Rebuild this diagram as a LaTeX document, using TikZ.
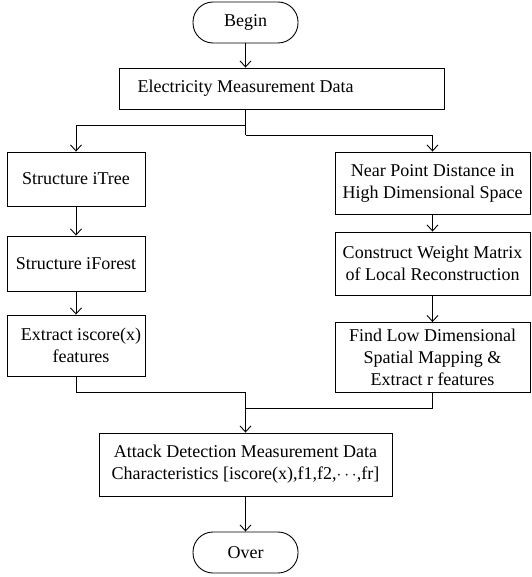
\documentclass[tikz,border=0pt]{standalone}
\usepackage{fontspec}
\setmainfont{Liberation Serif}
\usetikzlibrary{arrows.meta}
\tikzset{
  procbox/.style={draw,line width=0.9pt,align=center,inner sep=2pt,font=\fontsize{18}{22}\selectfont},
  termbox/.style={procbox,rounded corners=20pt,minimum width=105pt,minimum height=41pt},
  flow/.style={line width=0.9pt,-{Straight Barb[length=6pt,width=11pt,line width=0.9pt]}},
  link/.style={line width=0.9pt}
}
\begin{document}
\begin{tikzpicture}[x=1pt,y=1pt,yscale=-1,xscale=1]
\useasboundingbox (0,0) rectangle (531,577);

%Shape: Rounded Rect [id:begin]
\node [termbox] (begin) at (245.5,22.5) {Begin};
%Shape: Rectangle [id:elec]
\node [procbox,minimum width=325pt,minimum height=41pt] (elec) at (281.5,88.5) {Electricity Measurement Data\hspace*{72pt}};
%Shape: Rectangle [id:itree]
\node [procbox,minimum width=138pt,minimum height=54pt] (itree) at (76,179) {Structure iTree};
%Shape: Rectangle [id:iforest]
\node [procbox,minimum width=138pt,minimum height=55pt] (iforest) at (76,263.5) {Structure iForest};
%Shape: Rectangle [id:iscore]
\node [procbox,minimum width=138pt,minimum height=61pt] (iscore) at (76,345.5) {\hspace*{10pt}Extract iscore(x)\\\hspace*{10pt}features};
%Shape: Rectangle [id:near]
\node [procbox,minimum width=195pt,minimum height=62pt] (near) at (432.5,183) {Near Point Distance in\\High Dimensional Space};
%Shape: Rectangle [id:weight]
\node [procbox,minimum width=195pt,minimum height=63pt] (weight) at (432.5,263.5) {Construct Weight Matrix\\of Local Reconstruction};
%Shape: Rectangle [id:findlow]
\node [procbox,minimum width=195pt,minimum height=70pt] (findlow) at (432.5,357.5) {Find Low Dimensional\\Spatial Mapping \&\\Extract r features};
%Shape: Rectangle [id:attack]
\node [procbox,minimum width=293pt,minimum height=63pt] (attack) at (245.5,464.5) {Attack Detection Measurement Data\\Characteristics [iscore(x),f1,f2,$\cdots$,fr]};
%Shape: Rounded Rect [id:over]
\node [termbox] (over) at (245.5,552.5) {Over};

%Joints
\coordinate (splitL) at (245.5,125);
\coordinate (splitR) at (245.5,135);
\coordinate (joinL) at (245.5,392);
\coordinate (joinR) at (245.5,408);

%Straight Lines
\draw [flow] (begin.south) -- (begin.south |- elec.north);
\draw [link] (begin.south |- elec.south) -- (splitR);
\draw [flow] (splitL) -| (itree.north);
\draw [flow] (splitR) -| (near.north);
\draw [flow] (itree) -- (iforest);
\draw [flow] (iforest) -- (iscore);
\draw [flow] (near) -- (weight);
\draw [flow] (weight) -- (findlow);
\draw [link] (iscore.south) |- (joinL);
\draw [link] (findlow.south) |- (joinR);
\draw [flow] (joinL) -- (attack.north);
\draw [flow] (attack) -- (over);

\end{tikzpicture}
\end{document}
